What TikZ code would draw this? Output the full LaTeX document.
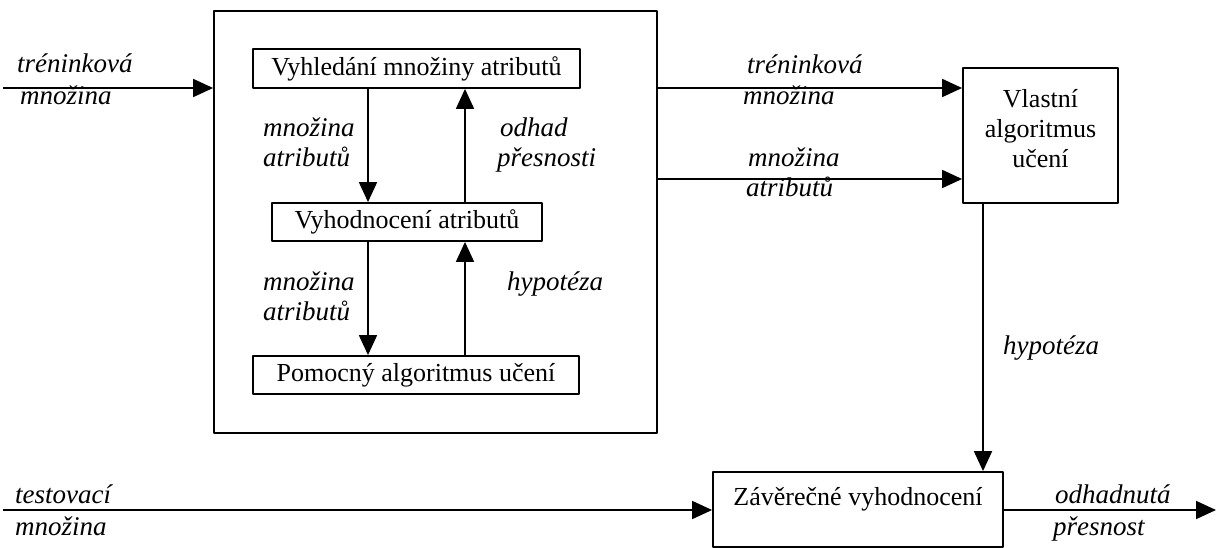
\documentclass[tikz,border=0pt]{standalone}
\usepackage{fontspec}
\setmainfont{Liberation Serif}
\usetikzlibrary{arrows.meta}

\tikzset{
  box/.style={draw, line width=1.8pt, inner sep=0pt, font=\fontsize{26}{30}\selectfont},
  lbl/.style={anchor=base west, inner sep=0pt, font=\fontsize{27}{30}\selectfont\itshape},
  arr/.style={line width=1.8pt, -{Triangle[length=20pt,width=18pt]}},
}

\begin{document}
\begin{tikzpicture}[x=1pt, y=-1pt, line join=round]
  \useasboundingbox (0,0) rectangle (1218,548);

  % boxes
  \node[box, minimum width=443pt, minimum height=422pt] (outer) at (435.5,222) {};
  \node[box, minimum width=327pt, minimum height=39pt] (find) at (416.5,68.5) {Vyhledání množiny atributů};
  \node[box, minimum width=270pt, minimum height=38pt] (eval) at (407,222) {Vyhodnocení atributů};
  \node[box, minimum width=326pt, minimum height=38pt] (aux) at (416,375) {Pomocný algoritmus učení};
  \node[box, align=center, minimum width=155pt, minimum height=135pt] (learn) at (1040.5,135.5) {Vlastní\\algoritmus\\učení\\[-16pt]};
  \node[box, minimum width=290pt, minimum height=75pt, text height=18pt, text depth=26pt] (final) at (858,509.5) {Závěrečné vyhodnocení};

  % free ends and columns
  \coordinate (colL) at (368,0);
  \coordinate (colR) at (465,0);
  \coordinate (colD) at (983,0);
  \coordinate (trainIn) at (3,88);
  \coordinate (attrRow) at (0,179);
  \coordinate (testIn) at (3,510);
  \coordinate (accOut) at (1216,510);

  % connectors
  \draw[arr] (trainIn) -- (trainIn -| outer.west);
  \draw[arr] (find.south -| colL) -- (eval.north -| colL);
  \draw[arr] (eval.north -| colR) -- (find.south -| colR);
  \draw[arr] (eval.south -| colL) -- (aux.north -| colL);
  \draw[arr] (aux.north -| colR) -- (eval.south -| colR);
  \draw[arr] (outer.east |- trainIn) -- (learn.west |- trainIn);
  \draw[arr] (outer.east |- attrRow) -- (learn.west |- attrRow);
  \draw[arr] (learn.south -| colD) -- (final.north -| colD);
  \draw[arr] (testIn) -- (testIn -| final.west);
  \draw[arr] (final.east |- accOut) -- (accOut);

  % labels
  \node[lbl] (inTrainA) at (17,73) {tréninková};
  \node[lbl] (inTrainB) at (20,105) {množina};
  \node[lbl] (downAttrA) at (263,137) {množina};
  \node[lbl] (downAttrB) at (263,167) {atributů};
  \node[lbl] (upAccA) at (500,137) {odhad};
  \node[lbl] (upAccB) at (497,167) {přesnosti};
  \node[lbl] (lowAttrA) at (263,290) {množina};
  \node[lbl] (lowAttrB) at (263,320) {atributů};
  \node[lbl] (lowHyp) at (507,290) {hypotéza};
  \node[lbl] (outTrainA) at (747,74) {tréninková};
  \node[lbl] (outTrainB) at (743,105) {množina};
  \node[lbl] (outAttrA) at (748,167) {množina};
  \node[lbl] (outAttrB) at (746,197) {atributů};
  \node[lbl] (finHyp) at (1003,354) {hypotéza};
  \node[lbl] (testA) at (15,503) {testovací};
  \node[lbl] (testB) at (15,535) {množina};
  \node[lbl] (accA) at (1055,503) {odhadnutá};
  \node[lbl] (accB) at (1053,535) {přesnost};
\end{tikzpicture}
\end{document}
